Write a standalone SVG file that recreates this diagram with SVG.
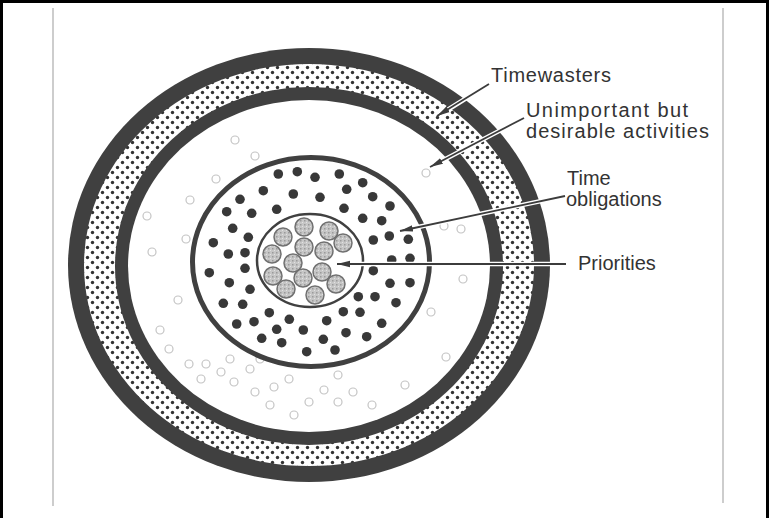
<svg xmlns="http://www.w3.org/2000/svg" width="769" height="518" viewBox="0 0 769 518">
<style>
.band{fill:#404040}
.lbl{font-family:"Liberation Sans",Arial,sans-serif;font-size:20px;fill:#333}
.halo{stroke:#fff;stroke-width:4.5;fill:none}
.arr{stroke:#3c3c3c;stroke-width:1.8;fill:none}
.dd{fill:#383838}
.lc{fill:none;stroke:#c4c4c4;stroke-width:1.2}
.pc{fill:url(#mottle);stroke:#707070;stroke-width:1.5}
</style>
<defs>
<pattern id="dots" patternUnits="userSpaceOnUse" width="10" height="10">
<rect width="10" height="10" fill="#fff"/>
<circle cx="2.5" cy="2.5" r="1.7" fill="#333"/>
<circle cx="7.5" cy="7.5" r="1.7" fill="#333"/>
</pattern>
<pattern id="mottle" patternUnits="userSpaceOnUse" width="4" height="4">
<rect width="4" height="4" fill="#c6c6c6"/>
<rect x="0" y="0" width="1.5" height="1.5" fill="#9a9a9a"/>
<rect x="2" y="2" width="1" height="1" fill="#e2e2e2"/>
</pattern>
<marker id="ah" markerUnits="userSpaceOnUse" markerWidth="14" markerHeight="8" refX="13" refY="4" orient="auto">
<path d="M0,0.8 L13,4 L0,7.2 Z" fill="#3c3c3c"/>
</marker>
</defs>
<rect width="769" height="518" fill="#fff"/>
<g id="frame">
<rect x="0" y="0" width="769" height="3" fill="#000"/>
<rect x="0" y="0" width="3" height="518" fill="#000"/>
<rect x="766" y="0" width="3" height="518" fill="#000"/>
<line x1="53" y1="8" x2="53" y2="506" stroke="#bdbdbd" stroke-width="1.5"/>
<line x1="723" y1="8" x2="723" y2="503" stroke="#bdbdbd" stroke-width="1.5"/>
</g>
<g id="ring-timewasters">
<ellipse class="band" cx="309" cy="265" rx="241" ry="217"/>
<ellipse cx="309" cy="265" rx="225" ry="201" fill="url(#dots)"/>
</g>
<g id="ring-unimportant">
<ellipse class="band" cx="309" cy="266" rx="194" ry="179"/>
<ellipse cx="309" cy="266" rx="181" ry="166" fill="#fff"/>
<circle class="lc" cx="169" cy="349" r="4"/><circle class="lc" cx="189" cy="364" r="4"/>
<circle class="lc" cx="206" cy="364" r="4"/><circle class="lc" cx="201" cy="379" r="4"/>
<circle class="lc" cx="221" cy="372" r="4"/><circle class="lc" cx="234" cy="382" r="4"/>
<circle class="lc" cx="250" cy="369" r="4"/><circle class="lc" cx="255" cy="392" r="4"/>
<circle class="lc" cx="274" cy="387" r="4"/><circle class="lc" cx="289" cy="379" r="4"/>
<circle class="lc" cx="270" cy="405" r="4"/><circle class="lc" cx="309" cy="402" r="4"/>
<circle class="lc" cx="294" cy="415" r="4"/><circle class="lc" cx="338" cy="375" r="4"/>
<circle class="lc" cx="353" cy="392" r="4"/><circle class="lc" cx="324" cy="390" r="4"/>
<circle class="lc" cx="147" cy="216" r="4"/><circle class="lc" cx="152" cy="252" r="4"/>
<circle class="lc" cx="216" cy="179" r="4"/><circle class="lc" cx="255" cy="156" r="4"/>
<circle class="lc" cx="444" cy="226" r="4"/><circle class="lc" cx="461" cy="229" r="4"/>
<circle class="lc" cx="463" cy="279" r="4"/><circle class="lc" cx="446" cy="357" r="4"/>
<circle class="lc" cx="431" cy="312" r="4"/><circle class="lc" cx="426" cy="173" r="4"/>
<circle class="lc" cx="186" cy="239" r="4"/><circle class="lc" cx="338" cy="402" r="4"/>
<circle class="lc" cx="260" cy="359" r="4"/><circle class="lc" cx="230" cy="359" r="4"/>
<circle class="lc" cx="178" cy="300" r="4"/><circle class="lc" cx="160" cy="330" r="4"/>
<circle class="lc" cx="372" cy="405" r="4"/><circle class="lc" cx="405" cy="385" r="4"/>
<circle class="lc" cx="190" cy="200" r="4"/><circle class="lc" cx="235" cy="140" r="4"/>
</g>
<g id="ring-obligations">
<ellipse cx="311" cy="262" rx="118.5" ry="104.5" fill="#fff" stroke="#404040" stroke-width="5"/>
<circle class="dd" cx="278.3" cy="174" r="4.8"/><circle class="dd" cx="297.3" cy="171.7" r="4.8"/>
<circle class="dd" cx="315" cy="177.3" r="4.8"/><circle class="dd" cx="339.3" cy="174" r="4.8"/>
<circle class="dd" cx="362.7" cy="182.7" r="4.8"/><circle class="dd" cx="263.3" cy="190.7" r="4.8"/>
<circle class="dd" cx="293.3" cy="194" r="4.8"/><circle class="dd" cx="320" cy="197.3" r="4.8"/>
<circle class="dd" cx="346.7" cy="189.3" r="4.8"/><circle class="dd" cx="372.7" cy="196.7" r="4.8"/>
<circle class="dd" cx="240" cy="199.3" r="4.8"/><circle class="dd" cx="226.7" cy="211.7" r="4.8"/>
<circle class="dd" cx="251.7" cy="213.3" r="4.8"/><circle class="dd" cx="276.7" cy="209.3" r="4.8"/>
<circle class="dd" cx="344" cy="208.3" r="4.8"/><circle class="dd" cx="362.7" cy="218.3" r="4.8"/>
<circle class="dd" cx="381.7" cy="220.7" r="4.8"/><circle class="dd" cx="390" cy="206" r="4.8"/>
<circle class="dd" cx="232.7" cy="228.3" r="4.8"/><circle class="dd" cx="248.3" cy="237.3" r="4.8"/>
<circle class="dd" cx="389.3" cy="236" r="4.8"/><circle class="dd" cx="408.3" cy="239.3" r="4.8"/>
<circle class="dd" cx="373.3" cy="240" r="4.8"/><circle class="dd" cx="213.3" cy="242.7" r="4.8"/>
<circle class="dd" cx="228.3" cy="254" r="4.8"/><circle class="dd" cx="245" cy="252.7" r="4.8"/>
<circle class="dd" cx="245" cy="268.3" r="4.8"/><circle class="dd" cx="209.3" cy="272.7" r="4.8"/>
<circle class="dd" cx="373.3" cy="270.7" r="4.8"/><circle class="dd" cx="391.7" cy="260" r="4.8"/>
<circle class="dd" cx="410" cy="258.3" r="4.8"/><circle class="dd" cx="229.3" cy="282.7" r="4.8"/>
<circle class="dd" cx="250" cy="289.3" r="4.8"/><circle class="dd" cx="390" cy="283.3" r="4.8"/>
<circle class="dd" cx="410" cy="282.7" r="4.8"/><circle class="dd" cx="223.3" cy="303.3" r="4.8"/>
<circle class="dd" cx="242.7" cy="304.3" r="4.8"/><circle class="dd" cx="358.3" cy="296.7" r="4.8"/>
<circle class="dd" cx="375" cy="296.7" r="4.8"/><circle class="dd" cx="396" cy="302.7" r="4.8"/>
<circle class="dd" cx="269.3" cy="312.7" r="4.8"/><circle class="dd" cx="343.3" cy="311.7" r="4.8"/>
<circle class="dd" cx="360" cy="312.3" r="4.8"/><circle class="dd" cx="236.7" cy="324" r="4.8"/>
<circle class="dd" cx="254" cy="321.7" r="4.8"/><circle class="dd" cx="289.3" cy="319.3" r="4.8"/>
<circle class="dd" cx="326.7" cy="320.7" r="4.8"/><circle class="dd" cx="381.7" cy="323.3" r="4.8"/>
<circle class="dd" cx="276.7" cy="329.3" r="4.8"/><circle class="dd" cx="261.7" cy="338.3" r="4.8"/>
<circle class="dd" cx="303.3" cy="330" r="4.8"/><circle class="dd" cx="346" cy="332.7" r="4.8"/>
<circle class="dd" cx="366.7" cy="336.7" r="4.8"/><circle class="dd" cx="281.7" cy="342.7" r="4.8"/>
<circle class="dd" cx="323.3" cy="339.3" r="4.8"/><circle class="dd" cx="306.7" cy="351.7" r="4.8"/>
<circle class="dd" cx="335" cy="350" r="4.8"/>
</g>
<g id="ring-priorities">
<ellipse cx="310" cy="260.5" rx="53" ry="46.5" fill="#fff" stroke="#404040" stroke-width="2.5"/>
<circle class="pc" cx="304" cy="227" r="9"/><circle class="pc" cx="329" cy="231" r="9"/>
<circle class="pc" cx="283" cy="237" r="9"/><circle class="pc" cx="343" cy="243" r="9"/>
<circle class="pc" cx="304" cy="247" r="9"/><circle class="pc" cx="324" cy="251" r="9"/>
<circle class="pc" cx="272" cy="254" r="9"/><circle class="pc" cx="293" cy="263" r="9"/>
<circle class="pc" cx="322" cy="272" r="9"/><circle class="pc" cx="273" cy="276" r="9"/>
<circle class="pc" cx="303" cy="278" r="9"/><circle class="pc" cx="336" cy="284" r="9"/>
<circle class="pc" cx="286" cy="289" r="9"/><circle class="pc" cx="315" cy="295" r="9"/>
</g>
<g id="connectors">
<line class="halo" x1="489" y1="84" x2="441" y2="114"/>
<line class="halo" x1="524" y1="118" x2="434" y2="165"/>
<line class="halo" x1="565" y1="196" x2="404" y2="230"/>
<line class="halo" x1="566" y1="264" x2="341" y2="264"/>
<line class="arr" x1="489" y1="84" x2="437" y2="116" marker-end="url(#ah)"/>
<line class="arr" x1="524" y1="118" x2="430" y2="167" marker-end="url(#ah)"/>
<line class="arr" x1="565" y1="196" x2="400" y2="231" marker-end="url(#ah)"/>
<line class="arr" x1="566" y1="264" x2="337" y2="264" marker-end="url(#ah)"/>
</g>
<g id="label-timewasters"><text class="lbl" x="491" y="82" textLength="120" lengthAdjust="spacing">Timewasters</text></g>
<g id="label-unimportant">
<text class="lbl" x="526" y="117" textLength="162" lengthAdjust="spacing">Unimportant but</text>
<text class="lbl" x="526" y="138" textLength="183" lengthAdjust="spacing">desirable activities</text>
</g>
<g id="label-obligations">
<text class="lbl" x="567" y="185">Time</text>
<text class="lbl" x="566" y="206">obligations</text>
</g>
<g id="label-priorities"><text class="lbl" x="578" y="270">Priorities</text></g>
</svg>
